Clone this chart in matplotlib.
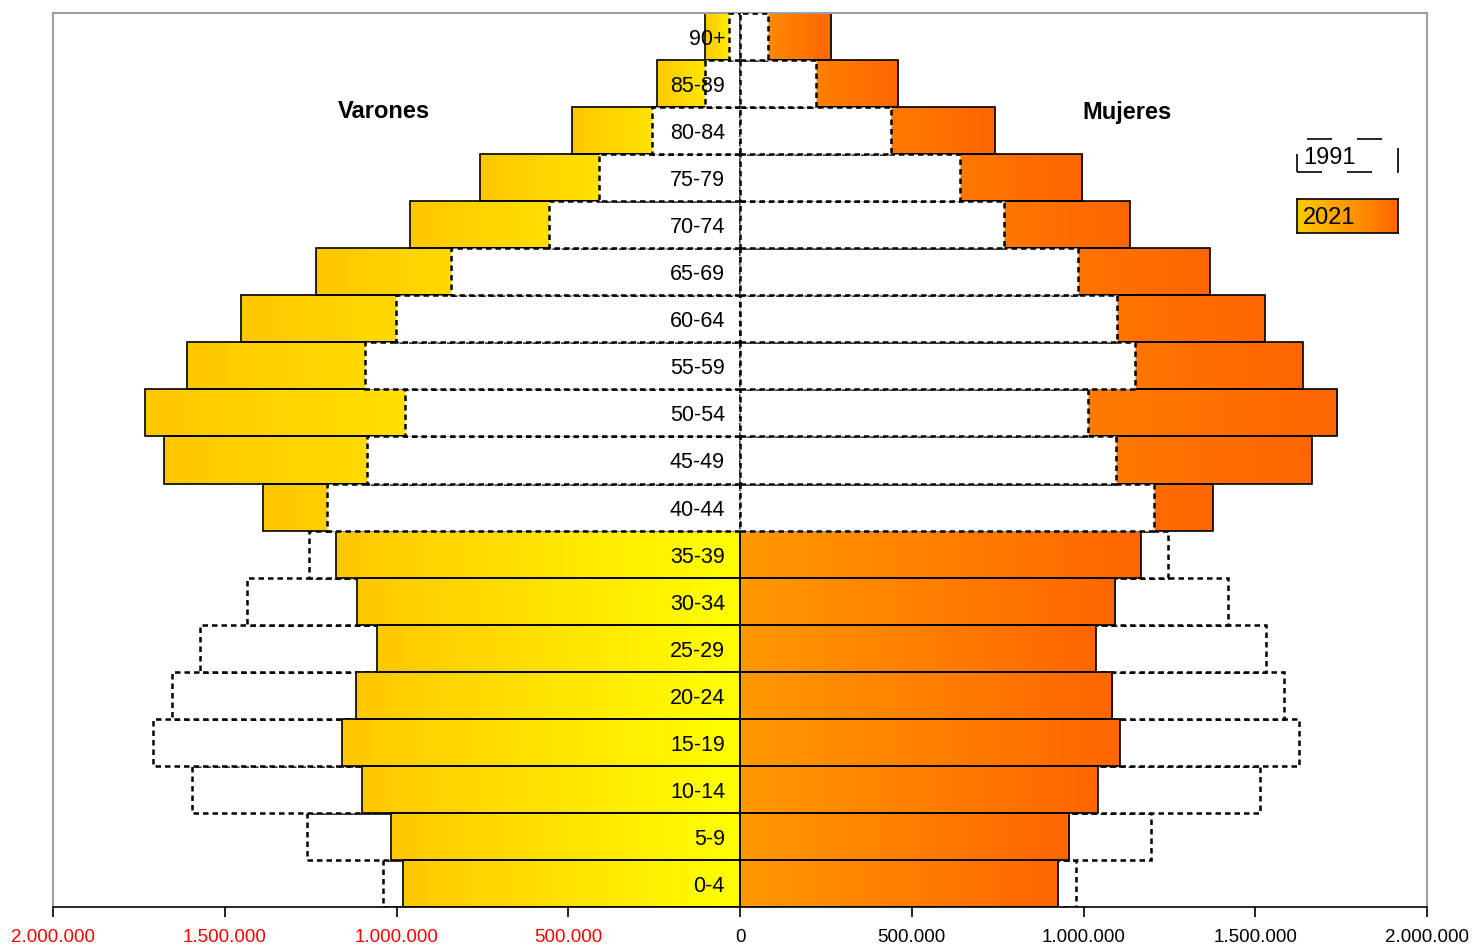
import numpy as np
import matplotlib
matplotlib.use("Agg")
import matplotlib.pyplot as plt
from matplotlib.colors import LinearSegmentedColormap
from matplotlib.patches import Rectangle
from matplotlib import transforms

plt.rcParams['font.family'] = ['Liberation Sans', 'DejaVu Sans']

ages = ["0-4", "5-9", "10-14", "15-19", "20-24", "25-29", "30-34", "35-39", "40-44",
        "45-49", "50-54", "55-59", "60-64", "65-69", "70-74", "75-79", "80-84", "85-89", "90+"]

male_2021 = [981000, 1016000, 1100000, 1159000, 1118000, 1057000, 1115000, 1176000, 1389000,
             1677000, 1732000, 1610000, 1453000, 1234000, 961000, 757000, 489000, 242000, 102000]
male_1991 = [1039000, 1260000, 1595000, 1709000, 1653000, 1572000, 1435000, 1255000, 1202000,
             1086000, 975000, 1092000, 1001000, 841000, 556000, 410000, 256000, 102000, 32000]
female_2021 = [926000, 958000, 1042000, 1106000, 1083000, 1036000, 1092000, 1167000, 1377000,
               1665000, 1738000, 1639000, 1528000, 1368000, 1135000, 996000, 742000, 460000, 265000]
female_1991 = [978000, 1196000, 1514000, 1627000, 1584000, 1531000, 1420000, 1246000, 1205000,
               1095000, 1013000, 1150000, 1097000, 984000, 769000, 640000, 440000, 221000, 82000]

xticks = [-2000000, -1500000, -1000000, -500000, 0, 500000, 1000000, 1500000, 2000000]

# left-to-right colour ramps
cmap_m = LinearSegmentedColormap.from_list("m", ["#FFC800", "#FFFF00"])
cmap_f = LinearSegmentedColormap.from_list("f", ["#FF9900", "#FF6600"])
grad = np.linspace(0, 1, 256).reshape(1, -1)

fig = plt.figure(figsize=(14.73, 9.46), dpi=100)
ax = fig.add_axes([53/1473, 1-907/946, (1427-53)/1473, (907-13)/946])

y = np.arange(len(ages))
dash = (0, (2.2, 1.6))

def draw_side(v21, v91, sign, cmap):
    b21 = ax.barh(y, [sign*v for v in v21], height=1.0, facecolor='none',
                  edgecolor='black', linewidth=1.2)
    b91 = ax.barh(y, [sign*v for v in v91], height=1.0, facecolor='white',
                  edgecolor='black', linewidth=1.8, linestyle=dash)
    for i, (p21, p91) in enumerate(zip(b21.patches, b91.patches)):
        xa = p21.get_x(); xb = xa + p21.get_width()
        y0 = p21.get_y(); h = p21.get_height()
        im = ax.imshow(grad, extent=(min(xa, xb), max(xa, xb), y0, y0+h), cmap=cmap,
                       aspect='auto', interpolation='bilinear', origin='lower')
        im.set_clip_path(p21)
        if v91[i] < v21[i]:
            z21, z91 = 2, 3
        else:
            z21, z91 = 2, 1
        im.set_zorder(z21)
        p21.set_zorder(z21 + 0.1)
        p91.set_zorder(z91)

draw_side(male_2021, male_1991, -1, cmap_m)
draw_side(female_2021, female_1991, 1, cmap_f)
ax.set_xlim(-2000000, 2000000)
ax.set_ylim(-0.5, len(ages)-0.5)

# age labels
off = transforms.offset_copy(ax.transData, fig=fig, x=-15, y=-3, units='dots')
for yi, lab in zip(y, ages):
    ax.text(0, yi, lab, transform=off, ha='right', va='center', fontsize=15.5,
            color='black', zorder=10)

# axes styling
for s in ['top', 'left', 'right']:
    ax.spines[s].set_color('#A0A0A0')
    ax.spines[s].set_linewidth(1.5)
ax.spines['bottom'].set_color('black')
ax.spines['bottom'].set_linewidth(1.2)
ax.spines['bottom'].set_zorder(5)
ax.set_yticks([])
ax.set_xticks(xticks)
ax.set_xticklabels([f"{abs(t):,}".replace(",", ".") for t in xticks], fontsize=13.5)
for t, lab in zip(xticks, ax.get_xticklabels()):
    lab.set_color('#FF0000' if t < 0 else 'black')
ax.tick_params(axis='x', direction='out', length=7, width=1.2, pad=9)

# titles
fig.text(384/1473, 1-111/946, "Varones", ha='center', va='center', fontsize=17, fontweight='bold')
fig.text(1127/1473, 1-112/946, "Mujeres", ha='center', va='center', fontsize=17, fontweight='bold')

# legend
lx0, lx1 = 1297/1473, 1398/1473
r1 = Rectangle((lx0, 1-172/946), lx1-lx0, 33/946, transform=fig.transFigure,
               facecolor='white', edgecolor='black', linewidth=1.2,
               linestyle=(0, (15, 15)))
fig.patches.append(r1)
fig.text(1303/1473, 1-158/946, "1991", ha='left', va='center', fontsize=17)

lax = fig.add_axes([lx0, 1-233/946, lx1-lx0, 34/946])
lax.imshow(grad, cmap=LinearSegmentedColormap.from_list("l", ["#FFC800", "#FF9900", "#FF6600"]),
           aspect='auto', extent=(0, 1, 0, 1))
lax.set_xticks([]); lax.set_yticks([])
for s in lax.spines.values():
    s.set_color('black'); s.set_linewidth(1.2)
lax.text(0.06, 0.45, "2021", ha='left', va='center', fontsize=17, transform=lax.transAxes)

fig.savefig("out.png", dpi=100)
